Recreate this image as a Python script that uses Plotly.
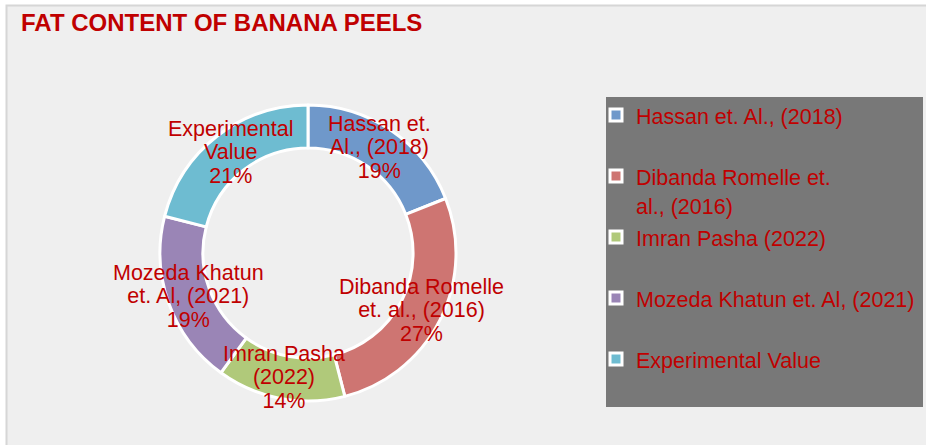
import math
import plotly.graph_objects as go

# ---- data ----
labels = ["Hassan et. Al., (2018)", "Dibanda Romelle et. al., (2016)", "Imran Pasha (2022)",
          "Mozeda Khatun et. Al, (2021)", "Experimental Value"]
values = [19, 27, 14, 19, 21]
slice_text = ["Hassan et.<br>Al., (2018)", "Dibanda Romelle<br>et. al., (2016)", "Imran Pasha<br>(2022)",
              "Mozeda Khatun<br>et. Al, (2021)", "Experimental<br>Value"]
legend_text = ["Hassan et. Al., (2018)<br> ", "Dibanda Romelle et.<br>al., (2016)", "Imran Pasha (2022)<br> ",
               "Mozeda Khatun et. Al, (2021)<br> ", "Experimental Value<br> "]
colors = ["#6F98CA", "#CE7572", "#B0C97A", "#9A85B6", "#6EBCD1"]
title = "FAT CONTENT OF BANANA PEELS"

W, H = 926, 445
RED = "#C00000"
FONT = "Liberation Sans, Arial, sans-serif"

cx, cy, r = 308, 253, 148      # pie centre / radius in page pixels
hole = 0.71
r_lab = 127                    # radius where slice labels sit

fig = go.Figure()
fig.add_trace(go.Pie(
    labels=[f"<span style='font-size:21.5px'>{t}</span>" for t in legend_text],
    values=values,
    customdata=slice_text,
    textinfo="none",
    hovertemplate="%{customdata}: %{value}<extra></extra>",
    marker=dict(colors=colors, line=dict(color="white", width=3)),
    hole=hole,
    sort=False,
    direction="clockwise",
    rotation=0,
    domain=dict(x=[(cx - r) / W, (cx + r) / W], y=[(H - cy - r) / H, (H - cy + r) / H]),
))

# slice labels placed at the middle of each slice (angles derived from the values)
total = sum(values)
annotations = []
cum = 0
for v, t in zip(values, slice_text):
    ang = 2 * math.pi * (cum + v / 2) / total
    cum += v
    x = cx + r_lab * math.sin(ang)
    y = cy - r_lab * math.cos(ang)
    pct = f"{round(100 * v / total)}%"
    annotations.append(dict(
        x=x / W, y=1 - y / H, xref="paper", yref="paper", xanchor="center", yanchor="middle",
        text=f"<span style='font-size:21.5px'>{t}<br>{pct}</span>", showarrow=False, align="center",
        font=dict(family=FONT, size=18, color=RED),
    ))

fig.update_layout(
    width=W, height=H,
    margin=dict(l=0, r=0, t=0, b=0),
    paper_bgcolor="white",
    title=dict(text=f"<b>{title}</b>", x=21 / W, xanchor="left", y=1 - 23 / H, yanchor="middle",
               font=dict(family=FONT, size=24, color=RED)),
    annotations=annotations,
    showlegend=True,
    legend=dict(x=596 / W, xanchor="left", y=1 - 94 / H, yanchor="top",
                bgcolor="rgba(0,0,0,0)", valign="top",
                font=dict(family=FONT, size=22.3, color=RED)),
    shapes=[
        dict(type="rect", xref="paper", yref="paper", x0=6.5 / W, x1=1.02, y0=-0.02, y1=1 - 5.5 / H,
             fillcolor="#EFEFEF", line=dict(color="#D6D6D6", width=2), layer="below"),
        dict(type="rect", xref="paper", yref="paper", x0=606 / W, x1=923 / W, y0=1 - 407 / H, y1=1 - 97 / H,
             fillcolor="#787878", line=dict(width=0), layer="below"),
    ],
)

fig.write_html("out.html", config={"displayModeBar": False},
               post_script="document.body.style.margin='0px';document.body.style.overflow='hidden';")
